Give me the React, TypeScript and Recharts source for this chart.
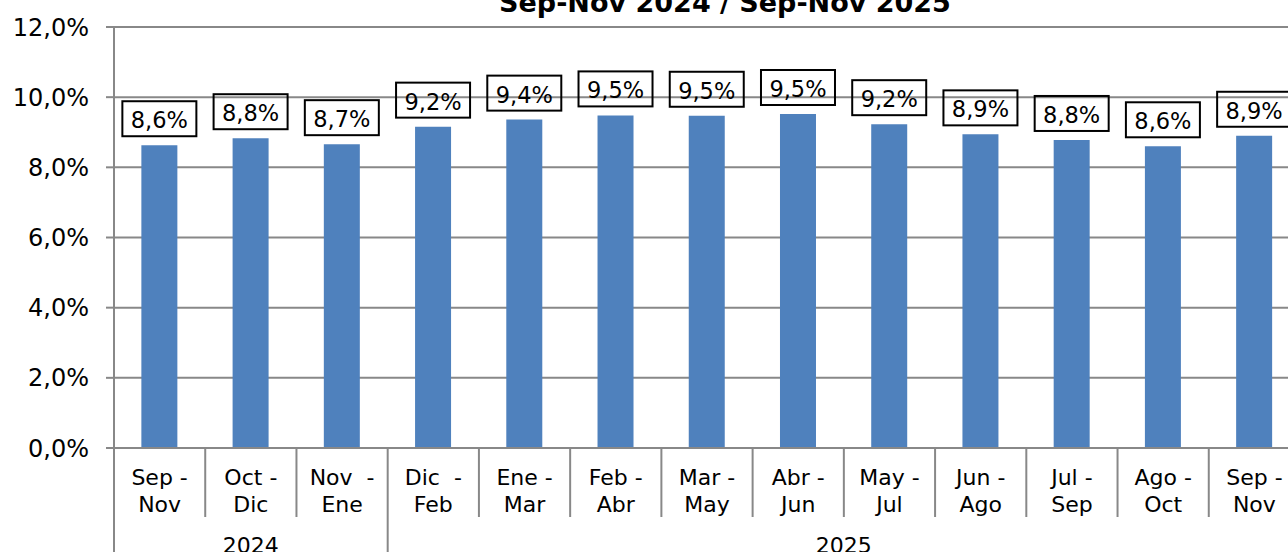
import React from 'react';
import { BarChart, Bar, XAxis, YAxis, CartesianGrid, LabelList } from 'recharts';

// moving three-month periods (two lines each) and the year each one belongs to
const periodStart = ['Sep -', 'Oct -', 'Nov  -', 'Dic  -', 'Ene -', 'Feb -', 'Mar -', 'Abr -', 'May -', 'Jun -', 'Jul -', 'Ago -', 'Sep -'];
const periodEnd = ['Nov', 'Dic', 'Ene', 'Feb', 'Mar', 'Abr', 'May', 'Jun', 'Jul', 'Ago', 'Sep', 'Oct', 'Nov'];
const years = ['2024', '2024', '2024', '2025', '2025', '2025', '2025', '2025', '2025', '2025', '2025', '2025', '2025'];
const rates = [8.63, 8.83, 8.66, 9.16, 9.36, 9.48, 9.47, 9.52, 9.23, 8.94, 8.78, 8.6, 8.9];
const yTicks = [0, 2, 4, 6, 8, 10, 12];
const title = 'Sep-Nov 2024 / Sep-Nov 2025';

const FONT = '"DejaVu Sans", Verdana, sans-serif';
const GRID = '#888888';
const BAR = '#4F81BD';

const CHART_W = 1300;
const CHART_H = 580;
const PLOT_LEFT = 114;
const PLOT_TOP = 27;
const X_AXIS_H = 132;
const BAND = (CHART_W - PLOT_LEFT) / rates.length;

const data = rates.map((rate, i) => ({
    name: `${periodStart[i]} ${periodEnd[i]}`,
    rate,
}));

const pct = (v: number) => `${v.toFixed(1).replace('.', ',')}%`;

const CategoryTick = (props: any) => {
    const { x, y, payload } = props;
    const i: number = props.index ?? payload.index;
    const left = x - BAND / 2;
    const newYear = i === 0 || years[i] !== years[i - 1];
    const count = years.filter((yy) => yy === years[i]).length;
    return (
        <g fontFamily={FONT} fontSize={22} fill="#000">
            <line x1={left} y1={y} x2={left} y2={newYear ? y + 140 : y + 69} stroke={GRID} strokeWidth={2} />
            {i === rates.length - 1 && (
                <line x1={x + BAND / 2} y1={y} x2={x + BAND / 2} y2={y + 140} stroke={GRID} strokeWidth={2} />
            )}
            <text x={x} y={y + 37} textAnchor="middle" style={{ whiteSpace: 'pre' }}>{periodStart[i]}</text>
            <text x={x} y={y + 64} textAnchor="middle">{periodEnd[i]}</text>
            {newYear && (
                <text x={left + (count * BAND) / 2} y={y + 105} textAnchor="middle">{years[i]}</text>
            )}
        </g>
    );
};

const ValueBox = (props: any) => {
    const { x, y, width, value } = props;
    const cx = x + width / 2;
    const bottom = y - 9;
    return (
        <g>
            <rect x={cx - 37} y={bottom - 35} width={74} height={35} fill="none" stroke="#000" strokeWidth={2} />
            <text x={cx} y={bottom - 8} textAnchor="middle" fontFamily={FONT} fontSize={22.5} fill="#000">
                {pct(value)}
            </text>
        </g>
    );
};

export default function App() {
    return (
        <div style={{ position: 'fixed', left: 0, top: 0, width: 1288, height: 552, overflow: 'hidden', background: '#fff' }}>
            <div style={{ position: 'absolute', left: 0, top: 0 }}>
                <BarChart
                    width={CHART_W}
                    height={CHART_H}
                    data={data}
                    margin={{ top: PLOT_TOP, right: 0, left: 0, bottom: 0 }}
                    barCategoryGap="30%"
                >
                    <CartesianGrid vertical={false} stroke={GRID} strokeWidth={2} />
                    <XAxis
                        dataKey="name"
                        height={X_AXIS_H}
                        interval={0}
                        tickLine={false}
                        tickSize={0}
                        tickMargin={0}
                        axisLine={{ stroke: GRID, strokeWidth: 2 }}
                        tick={<CategoryTick />}
                    />
                    <YAxis
                        width={PLOT_LEFT}
                        domain={[0, 12]}
                        ticks={yTicks}
                        interval={0}
                        tickFormatter={pct}
                        tickSize={8}
                        tickMargin={17}
                        axisLine={{ stroke: GRID, strokeWidth: 2 }}
                        tickLine={{ stroke: GRID, strokeWidth: 2 }}
                        tick={{ fontFamily: FONT, fontSize: 24, fill: '#000' }}
                    />
                    <Bar dataKey="rate" fill={BAR} isAnimationActive={false}>
                        <LabelList dataKey="rate" content={<ValueBox />} />
                    </Bar>
                </BarChart>
            </div>
            <svg width={1288} height={30} style={{ position: 'absolute', left: 0, top: 0 }}>
                <text x={725} y={12} textAnchor="middle" fontFamily={FONT} fontSize={27} fontWeight="bold" fill="#000">
                    {title}
                </text>
            </svg>
        </div>
    );
}
